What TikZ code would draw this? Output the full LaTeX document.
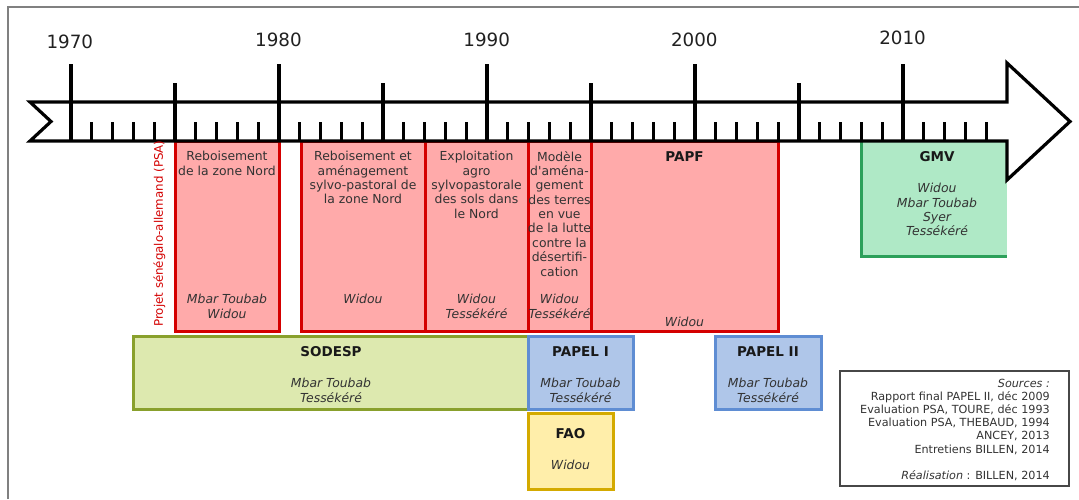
\documentclass[tikz,border=0pt]{standalone}
\usepackage{fontspec}
\setmainfont{DejaVu Sans}
\definecolor{redfill}{HTML}{FFAAAA}
\definecolor{redline}{HTML}{D40000}
\definecolor{olfill}{HTML}{DDE9AF}
\definecolor{olline}{HTML}{89A02C}
\definecolor{bluefill}{HTML}{AFC6E9}
\definecolor{blueline}{HTML}{5F8DD3}
\definecolor{yelfill}{HTML}{FFEEAA}
\definecolor{yelline}{HTML}{D4AA00}
\definecolor{grnfill}{HTML}{AFE9C6}
\definecolor{grnline}{HTML}{2CA05A}
\definecolor{txtgray}{HTML}{333333}
\definecolor{framegray}{HTML}{808080}
\tikzset{
  boxline/.style={line width=3pt},
  redbox/.style={boxline, fill=redfill, draw=redline},
  olbox/.style={boxline, fill=olfill, draw=olline},
  bluebox/.style={boxline, fill=bluefill, draw=blueline},
  yelbox/.style={boxline, fill=yelfill, draw=yelline},
  arrowline/.style={line width=3.2pt, draw=black, line join=miter},
  ticker/.style={line width=3.2pt, draw=black},
  yearlbl/.style={inner sep=0, anchor=base, text=black!87, font=\fontsize{18.3}{21}\selectfont},
  txt/.style={inner sep=0, anchor=north, align=center, text=txtgray, font=\fontsize{12.4}{14.35}\selectfont},
  ital/.style={txt, font=\fontsize{12.4}{14.35}\selectfont\itshape},
  ttl/.style={inner sep=0, anchor=north, text=black!90, font=\fontsize{13.5}{16}\selectfont\bfseries},
  srctxt/.style={inner sep=0, anchor=north east, align=right, text=txtgray, font=\fontsize{11.2}{13.1}\selectfont},
}
\begin{document}
\begin{tikzpicture}[x=1pt,y=-1pt]
\useasboundingbox (0,0) rectangle (1079,499);
\fill[white] (0,0) rectangle (1079,499);
% frame
\draw[framegray, line width=1.3pt] (8,499) -- (8,7) -- (1079,7);

% red project boxes
\draw[redbox] (175,141) rectangle (279,331);
\draw[redbox] (301,141) rectangle (425,331);
\draw[redbox] (425,141) rectangle (528,331);
\draw[redbox] (528,141) rectangle (591,331);
\draw[redbox] (591,141) rectangle (778,331);

% GMV box (stroke on left and bottom only)
\fill[grnfill] (861,141) rectangle (1007,256);
\draw[boxline, grnline] (861,141) -- (861,256) -- (1007,256);

% lower boxes
\draw[olbox] (133,336) rectangle (528,409);
\draw[bluebox] (528,336) rectangle (633,409);
\draw[bluebox] (715,336) rectangle (821,409);
\draw[yelbox] (528,413) rectangle (613,489);

% sources box
\draw[txtgray!90, line width=1.4pt] (840,371) rectangle (1069,486);

% timeline arrow
\draw[arrowline, fill=white] (30,102) -- (1007,102) -- (1007,63) -- (1070,121.5) -- (1007,180) -- (1007,141) -- (30,141) -- (51,121.5) -- cycle;
\foreach \i in {1,...,44} \draw[ticker] ({71+20.8*\i},122) -- ({71+20.8*\i},141);
\foreach \i in {5,15,25,35} \draw[ticker] ({71+20.8*\i},83) -- ({71+20.8*\i},141);
\foreach \i in {0,10,20,30,40} \draw[ticker] ({71+20.8*\i},64) -- ({71+20.8*\i},141);

% year labels
\node[yearlbl] (y1970) at (69.8,48.3) {1970};
\node[yearlbl] (y1980) at (278.4,46.7) {1980};
\node[yearlbl] (y1990) at (486.7,46.7) {1990};
\node[yearlbl] (y2000) at (694.3,46) {2000};
\node[yearlbl] (y2010) at (902.6,44) {2010};

% PSA label
\node[rotate=90, inner sep=0, text=redline, font=\fontsize{11.8}{14}\selectfont] (psa) at (159.3,233.5) {Projet sénégalo-allemand (PSA)};

% red box texts
\node[txt] (t1) at (227,151.1) {Reboisement\\de la zone Nord};
\node[ital] (w1) at (227,294.1) {Mbar Toubab\\Widou};
\node[txt] (t2) at (363,151.1) {Reboisement et\\aménagement\\sylvo-pastoral de\\la zone Nord};
\node[ital] (w2) at (363,294.1) {Widou};
\node[txt] (t3) at (476.5,151.1) {Exploitation\\agro\\sylvopastorale\\des sols dans\\le Nord};
\node[ital] (w3) at (476.5,294.1) {Widou\\Tessékéré};
\node[txt] (t4) at (559.5,151.1) {Modèle\\d\textquotesingle aména-\\gement\\des terres\\en vue\\de la lutte\\contre la\\désertifi-\\cation};
\node[ital] (w4) at (559.5,294.1) {Widou\\Tessékéré};
\node[ttl] (t5) at (684.5,151.1) {PAPF};
\node[ital] (w5) at (684.5,317.1) {Widou};

% GMV
\node[ttl] (tg) at (937,151.1) {GMV};
\node[ital] (wg) at (937,183.1) {Widou\\Mbar Toubab\\Syer\\Tessékéré};

% lower texts
\node[ttl] (ts) at (331,346.1) {SODESP};
\node[ital] (ws) at (331,378.1) {Mbar Toubab\\Tessékéré};
\node[ttl] (tp1) at (580.5,346.1) {PAPEL I};
\node[ital] (wp1) at (580.5,378.1) {Mbar Toubab\\Tessékéré};
\node[ttl] (tp2) at (768,346.1) {PAPEL II};
\node[ital] (wp2) at (768,378.1) {Mbar Toubab\\Tessékéré};
\node[ttl] (tf) at (570.5,428.1) {FAO};
\node[ital] (wf) at (570.5,460.1) {Widou};

% sources
\node[srctxt] (src) at (1050,379) {{\itshape Sources :}\\Rapport final PAPEL II, déc 2009\\Evaluation PSA, TOURE, déc 1993\\Evaluation PSA, THEBAUD, 1994\\ANCEY, 2013\\Entretiens BILLEN, 2014\\[13.1pt]{\itshape Réalisation} : BILLEN, 2014};
\end{tikzpicture}
\end{document}
